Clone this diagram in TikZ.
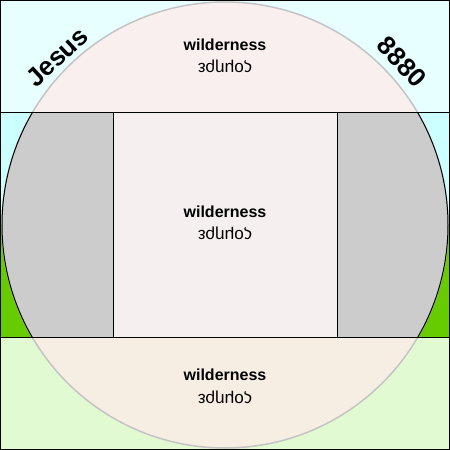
\documentclass[tikz,border=0pt]{standalone}
\usepackage{fontspec}
\setmainfont{Liberation Sans}
\usetikzlibrary{positioning}

\definecolor{skytop}{HTML}{E8FFFF}
\definecolor{skymid}{HTML}{CCFFFF}
\definecolor{grass}{HTML}{66CC00}
\definecolor{grassbot}{HTML}{E2FAD2}
\definecolor{pinkfill}{HTML}{FFEAEA}
\definecolor{wallgrey}{HTML}{CCCCCC}
\definecolor{rimgrey}{HTML}{C4C4C4}
\definecolor{roomfill}{HTML}{F5EFF0}

\tikzset{
  word/.style={font=\fontsize{16}{19}\selectfont\bfseries, anchor=base, inner sep=0pt},
  greek/.style={font=\fontsize{17}{20}\selectfont, rotate=180, inner sep=0pt},
  rimtext/.style={font=\fontsize{26}{30}\selectfont\bfseries, inner sep=0pt},
}

\begin{document}
\begin{tikzpicture}[x=1pt,y=-1pt]
    \useasboundingbox (0,0) rectangle (450,450);
    \coordinate (c) at (225,225);
    \fill[skytop] (0,0) rectangle (450,112);
    \fill[skymid] (0,112) rectangle (450,225);
    \fill[grass] (0,225) rectangle (450,337);
    \fill[grassbot] (0,337) rectangle (450,450);
    \fill[pinkfill, fill opacity=0.75] (c) circle (223pt);
    \draw[rimgrey, line width=1.5pt] (c) circle (223pt);
    \begin{scope}
      \clip (c) circle (223pt);
      \fill[wallgrey] (0,112) rectangle (113,337);
      \fill[wallgrey] (337,112) rectangle (450,337);
    \end{scope}
    \begin{scope}
      \clip (0,112) rectangle (450,337);
      \draw[line width=1pt] (c) circle (223pt);
    \end{scope}
    \draw[fill=roomfill, line width=1pt] (113,112) rectangle (337,337);
    \draw[line width=1pt] (0,112) -- (450,112) (0,337) -- (450,337);
    \draw[line width=1pt] (0.5,0.5) rectangle (449.5,449.5);
    \foreach \n/\yw/\yg in {top/50/66, mid/217/233, bot/380/397} {
      \node[word] (wild\n) at (225,\yw) {wilderness};
      \node[greek] (greek\n) at (225,\yg) {ςομηρε};
    }
    \node[rimtext, rotate=43] (jesus) at (57,57) {Jesus};
    \node[rimtext, rotate=-47] (number) at (402,62) {8880};
\end{tikzpicture}
\end{document}
